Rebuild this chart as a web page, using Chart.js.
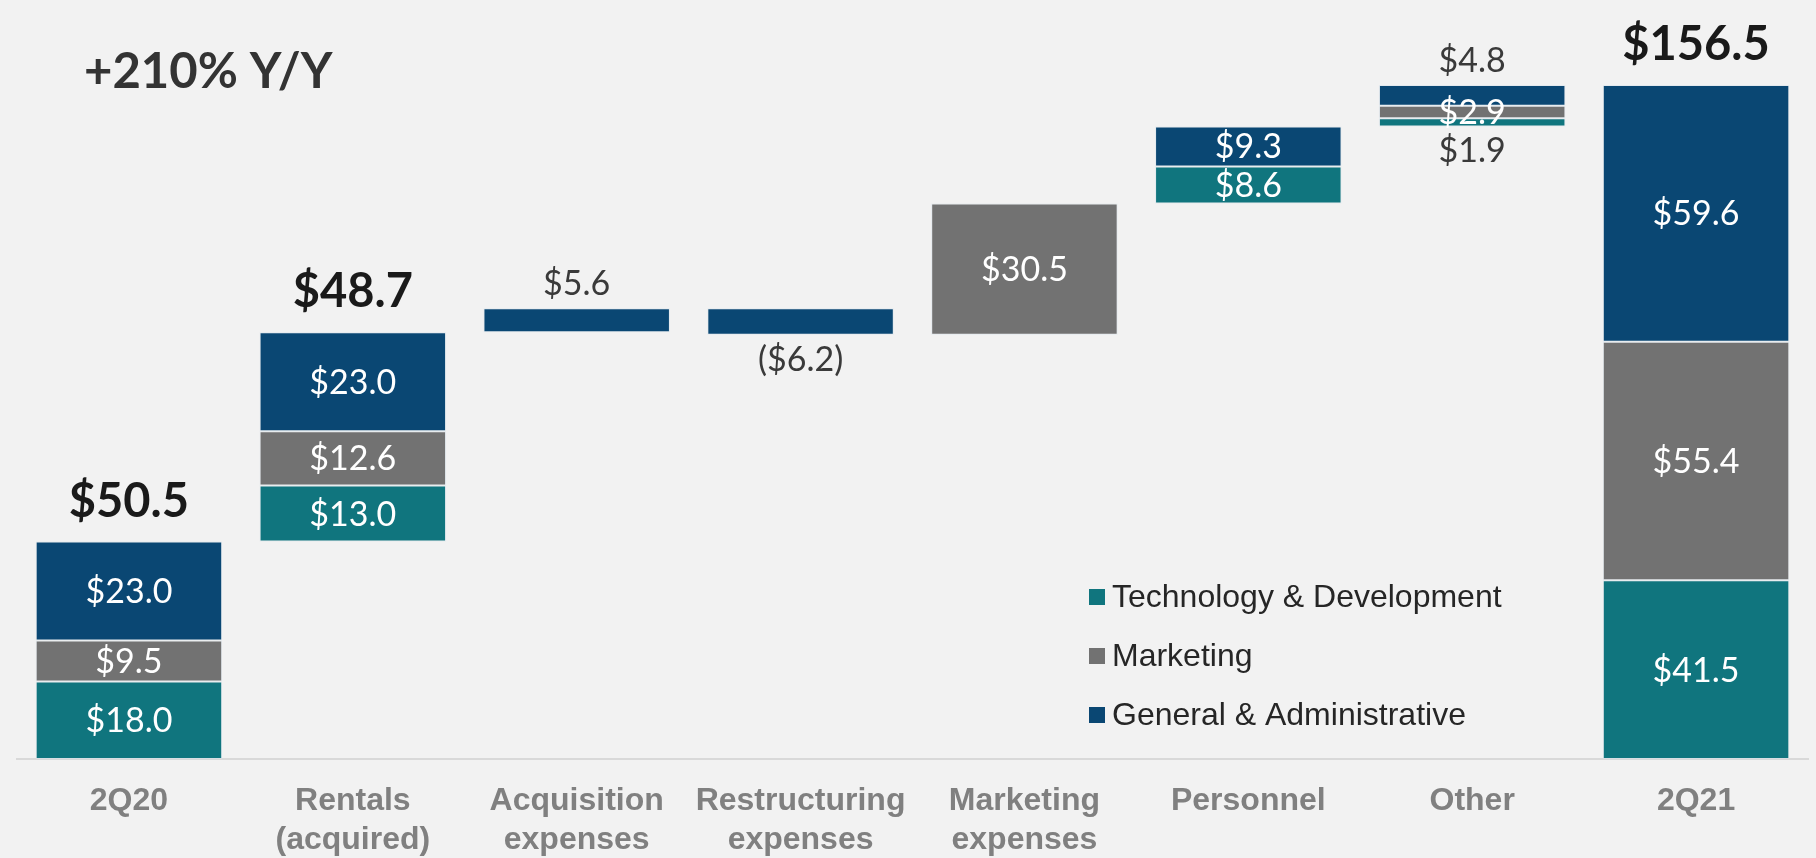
<!DOCTYPE html>
<html>
<head>
<meta charset="utf-8">
<script src="https://cdn.jsdelivr.net/npm/chart.js@4"></script>
<style>
  html, body { margin: 0; padding: 0; background: #f2f2f2; }
</style>
</head>
<body>
<canvas id="chart" width="1816" height="858"></canvas>
<script>
// données du graphique
const categories = ['2Q20', ['Rentals', '(acquired)'], ['Acquisition', 'expenses'], ['Restructuring', 'expenses'],
    ['Marketing', 'expenses'], 'Personnel', 'Other', '2Q21'];
const isTotal = [true, false, false, false, false, false, false, true];
const techDev = [18.0, 13.0, 0, 0, 0, 8.6, 1.9, 41.5];
const marketing = [9.5, 12.6, 0, 0, 30.5, 0, 2.9, 55.4];
const genAdmin = [23.0, 23.0, 5.6, -6.2, 0, 9.3, 4.8, 59.6];
const totals = [50.5, 48.7, null, null, null, null, null, 156.5];
const seriesNames = ['Technology & Development', 'Marketing', 'General & Administrative'];
const seriesColors = ['#10757e', '#727272', '#0a4773'];
const headline = '+210% Y/Y';

// calcul des barres flottantes (cascade)
const series = [techDev, marketing, genAdmin];
const ranges = series.map(() => []);
let running = 0;
categories.forEach((c, i) => {
    let base = isTotal[i] ? 0 : running;
    series.forEach((s, k) => {
        const v = s[i];
        if (!v) { ranges[k].push(null); return; }
        ranges[k].push([base, base + v]);
        base += v;
    });
    running = base;
});

function fmt(v) {
    return v < 0 ? '($' + (-v).toFixed(1) + ')' : '$' + v.toFixed(1);
}

const labelPlugin = {
    id: 'labels',
    afterDatasetsDraw(chart) {
        const ctx = chart.ctx;
        const tops = [];
        ctx.save();
        ctx.textAlign = 'center';
        ctx.textBaseline = 'middle';
        chart.data.datasets.forEach((ds, k) => {
            const meta = chart.getDatasetMeta(k);
            meta.data.forEach((bar, i) => {
                const v = series[k][i];
                if (!v) return;
                const top = Math.min(bar.y, bar.base);
                const bottom = Math.max(bar.y, bar.base);
                tops[i] = tops[i] === undefined ? top : Math.min(tops[i], top);
                ctx.font = '34px Lato';
                if (Math.abs(v) >= 7 || k === 1) {
                    ctx.fillStyle = '#ffffff';
                    ctx.fillText(fmt(v), bar.x, (top + bottom) / 2 + 1);
                } else if (v < 0 || k === 0) {
                    ctx.fillStyle = '#3a3a3a';
                    ctx.fillText(fmt(v), bar.x, bottom + 25);
                } else {
                    ctx.fillStyle = '#3a3a3a';
                    ctx.fillText(fmt(v), bar.x, top - 24);
                }
            });
        });
        // totaux
        ctx.font = 'bold 47px Lato';
        ctx.fillStyle = '#1a1a1a';
        ctx.textBaseline = 'alphabetic';
        const meta0 = chart.getDatasetMeta(0);
        totals.forEach((t, i) => {
            if (t === null) return;
            ctx.fillText('$' + t.toFixed(1), meta0.data[i].x, tops[i] - 25);
        });
        // titre
        ctx.textAlign = 'left';
        ctx.textBaseline = 'middle';
        ctx.font = 'bold 49px Lato';
        ctx.fillStyle = '#333333';
        ctx.fillText(headline, 84, 72);
        // légende
        const area = chart.chartArea;
        ctx.font = '32px "Liberation Sans", Arial';
        seriesNames.forEach((name, k) => {
            const y = area.bottom - 162 + k * 59;
            const x = area.right - 719;
            ctx.fillStyle = seriesColors[k];
            ctx.fillRect(x, y - 8, 16, 16);
            ctx.fillStyle = '#262626';
            ctx.fillText(name, x + 23, y + 1);
        });
        ctx.restore();
    }
};

const ctx = document.getElementById('chart').getContext('2d');
new Chart(ctx, {
    type: 'bar',
    data: {
        labels: categories,
        datasets: series.map((s, k) => ({
            label: seriesNames[k],
            data: ranges[k],
            backgroundColor: seriesColors[k],
            borderColor: 'rgba(215,225,235,0.55)',
            borderWidth: 1,
            borderSkipped: false,
            grouped: false,
            barPercentage: 0.833,
            categoryPercentage: 1
        }))
    },
    options: {
        responsive: false,
        animation: false,
        layout: { padding: { top: 30, left: 17, right: 8, bottom: 0 } },
        plugins: {
            legend: { display: false },
            tooltip: { enabled: false }
        },
        scales: {
            x: {
                grid: { display: false, drawTicks: false },
                border: { display: true, color: '#d9d9d9', width: 2 },
                ticks: {
                    color: '#808080',
                    font: { family: '"Liberation Sans", Arial', weight: 'bold', size: 32, lineHeight: 1.24 },
                    padding: 22,
                    maxRotation: 0,
                    autoSkip: false
                },
                afterFit(scale) { scale.height = 99; }
            },
            y: {
                display: false,
                min: 0,
                max: 169.3
            }
        }
    },
    plugins: [labelPlugin]
});
</script>
</body>
</html>
